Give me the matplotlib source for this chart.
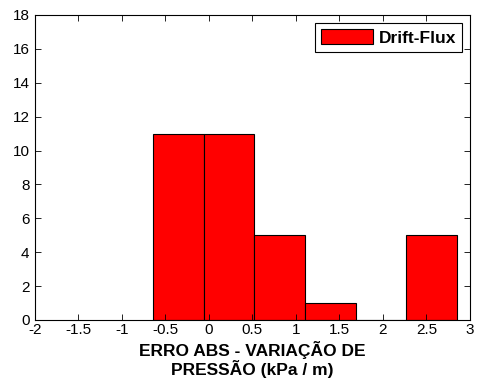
import numpy as np
import matplotlib
matplotlib.use("Agg")
import matplotlib.pyplot as plt

plt.rcParams['font.family'] = ['Liberation Sans', 'DejaVu Sans']

# histogram bins (edges) and counts
bin_edges = [-0.644, -0.061, 0.521, 1.104, 1.686, 2.268, 2.851]
counts = [11, 11, 5, 1, 0, 5]
series_name = 'Drift-Flux'

fig = plt.figure(figsize=(4.78, 3.83), dpi=100)
ax = fig.add_axes([0.0732, 0.1645, 0.9098, 0.7965])

ax.hist(bin_edges[:-1], bins=bin_edges, weights=counts, color='#ff0000',
        edgecolor='black', linewidth=0.8, label=series_name)

ax.set_xlim(-2, 3)
ax.set_ylim(0, 18)
ax.set_xticks(np.arange(-2, 3.01, 0.5))
ax.set_xticklabels(['-2', '-1.5', '-1', '-0.5', '0', '0.5', '1', '1.5', '2', '2.5', '3'])
ax.set_yticks(np.arange(0, 19, 2))
ax.tick_params(direction='in', top=True, right=True, length=4, width=0.6,
               labelsize=11)
ax.tick_params(axis='x', pad=2)
ax.tick_params(axis='y', pad=4)
for s in ax.spines.values():
    s.set_linewidth(0.8)

ax.set_xlabel('ERRO ABS - VARIAÇÃO DE\nPRESSÃO (kPa / m)', fontsize=12.5,
              fontweight='bold', labelpad=3, linespacing=1.05)

leg = ax.legend(loc='upper right', prop={'weight': 'bold', 'size': 12.5},
                fancybox=False, framealpha=1, edgecolor='black',
                handlelength=3.0, handleheight=1.0, borderpad=0.35,
                borderaxespad=0.45, handletextpad=0.3)
leg.get_frame().set_linewidth(0.8)

fig.savefig('out.png', dpi=100)
